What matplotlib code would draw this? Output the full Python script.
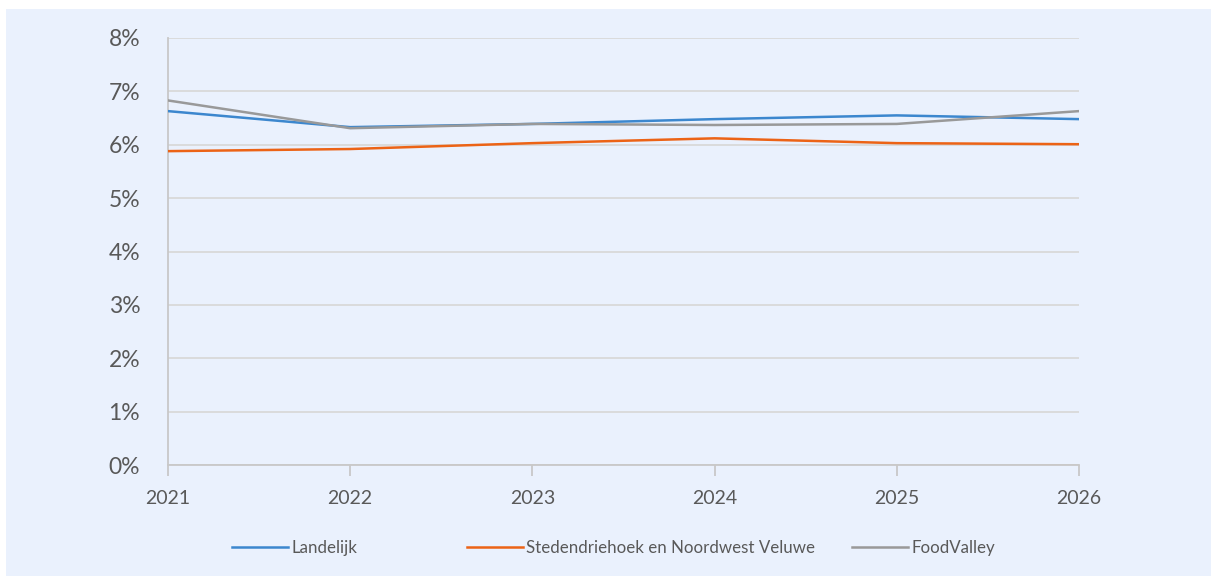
import matplotlib
matplotlib.use("Agg")
import matplotlib.pyplot as plt
from matplotlib.patches import Rectangle
from matplotlib.ticker import FuncFormatter

years = [2021, 2022, 2023, 2024, 2025, 2026]
landelijk = [6.63, 6.33, 6.39, 6.48, 6.55, 6.48]
stedendriehoek = [5.88, 5.92, 6.03, 6.12, 6.03, 6.01]
foodvalley = [6.83, 6.31, 6.39, 6.37, 6.39, 6.63]
series_names = ["Landelijk", "Stedendriehoek en Noordwest Veluwe", "FoodValley"]
y_ticks = [0, 1, 2, 3, 4, 5, 6, 7, 8]

plt.rcParams['font.family'] = ['Lato', 'DejaVu Sans']
bg = "#EAF1FD"
txt = "#595959"

fig = plt.figure(figsize=(12.11, 5.76), dpi=100, facecolor="white")
fig.patches.append(Rectangle((6/1211, 0), 1 - 6/1211, 1 - 9/576, transform=fig.transFigure,
                             facecolor=bg, edgecolor="none", zorder=-10))
ax = fig.add_axes([168/1211, 1 - 465/576, (1079-168)/1211, (465-38)/576])
ax.set_zorder(5)
ax.patch.set_alpha(0)

lines = []
lines += ax.plot(years, landelijk, color="#3C87CE", lw=1.8, label=series_names[0], zorder=3)
lines += ax.plot(years, stedendriehoek, color="#EC6316", lw=1.8, label=series_names[1], zorder=3)
lines += ax.plot(years, foodvalley, color="#999999", lw=1.8, label=series_names[2], zorder=3)

ax.set_xlim(years[0], years[-1])
ax.set_ylim(0, 8)
ax.set_yticks(y_ticks)
ax.yaxis.set_major_formatter(FuncFormatter(lambda v, p: f"{int(v)}%"))
ax.set_xticks(years)
ax.grid(axis="y", color="#D9D9D9", lw=1.3)
ax.set_axisbelow(True)
for s in ["top", "right"]:
    ax.spines[s].set_visible(False)
ax.spines["left"].set_color("#C8C8C8")
ax.spines["bottom"].set_color("#C8C8C8")
ax.spines["left"].set_linewidth(1.3)
ax.spines["bottom"].set_linewidth(1.3)
ax.tick_params(axis="y", length=0, labelsize=16.5, labelcolor=txt, pad=20)
ax.tick_params(axis="x", length=8, width=1.3, color="#C8C8C8", labelsize=14, labelcolor=txt, pad=10)

legend_x = [232, 467, 852]
for ln, name, lx in zip(lines, series_names, legend_x):
    leg = fig.legend([ln], [name], loc="center left", bbox_to_anchor=(lx/1211, 1 - 548/576),
                     frameon=False, fontsize=12.2, handlelength=3.3, handletextpad=0.2,
                     borderpad=0, borderaxespad=0)
    for t in leg.get_texts():
        t.set_color(txt)

fig.savefig("out.png", dpi=100, facecolor="white")
